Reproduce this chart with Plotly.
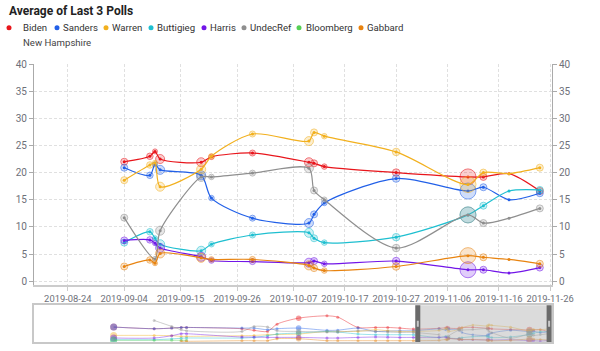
import plotly.graph_objects as go

# ---------------- data (main window: New Hampshire) ----------------
DATES = ["2019-09-04", "2019-09-09", "2019-09-10", "2019-09-11", "2019-09-19",
         "2019-09-21", "2019-09-29", "2019-10-10", "2019-10-11", "2019-10-13",
         "2019-10-27", "2019-11-10", "2019-11-13", "2019-11-18", "2019-11-24"]
SIZES = [7, 6.5, 5, 9, 9, 5.5, 6, 9, 7, 5.5, 7.5, 16, 7, 0, 7]

BIDEN = [22.0, 23.0, 23.9, 22.5, 21.9, 22.9, 23.6, 21.9, 21.7, 21.1, 20.0, 19.2, 19.2, 19.8, 16.6]
SANDERS = [20.9, 19.5, 21.5, 20.5, 19.5, 15.3, 11.6, 10.7, 12.3, 14.4, 18.9, 16.6, 17.3, 15.0, 16.2]
WARREN = [18.6, 21.4, 21.8, 17.4, 20.6, 23.0, 27.1, 25.8, 27.4, 26.7, 23.8, 17.8, 20.0, 19.8, 20.9]
BUTTIGIEG = [7.1, 9.1, 7.9, 6.8, 5.6, 6.8, 8.5, 8.9, 7.9, 7.1, 8.1, 12.2, 13.9, 16.6, 16.8]
HARRIS = [7.5, 7.6, 7.0, 6.1, 4.5, 3.8, 3.6, 3.4, 3.7, 3.2, 3.7, 2.1, 2.1, 1.5, 2.5]
UNDECREF = [11.7, None, 4.1, 9.3, 19.2, 19.2, 19.9, 20.8, 16.7, 15.0, 6.1, 12.2, 10.7, 11.6, 13.4]
BLOOMBERG = [None] * 15
GABBARD = [2.7, 3.9, 3.3, 5.1, 4.3, 4.0, 4.0, 2.9, 2.4, 1.95, 2.7, 4.7, 4.4, 4.0, 3.2]

# ---------------- data (earlier history, shown only in the slider) ----------------
H_DATES = ["2019-01-06", "2019-02-05", "2019-02-18", "2019-02-25", "2019-03-01",
           "2019-04-11", "2019-04-20", "2019-04-30", "2019-05-07", "2019-05-23",
           "2019-06-13", "2019-06-21", "2019-07-06", "2019-07-19", "2019-07-28",
           "2019-08-06", "2019-08-16"]
H_SIZES = [7, 3, 3, 3, 3, 3, 3, 3, 3, 5.5, 3, 3, 3, 3, 3, 3, 3]
BIDEN_H = [24.0, 21.3, 22.3, 23.4, 23.4, 21.3, 18.7, 17.0, 28.7, 38.3, 42.0, 39.9, 23.4, 23.4, 23.4, 22.3, 20.7]
SANDERS_H = [24.0, 21.3, 22.3, 23.4, 23.4, 22.3, 22.3, 19.7, 21.3, 22.3, 18.7, 19.0, 22.3, 17.0, 17.5, 18.0, 18.0]
WARREN_H = [10.6, 10.6, 10.1, 9.0, 9.0, 10.1, 10.6, 11.7, 12.0, 12.8, 17.0, 17.0, 17.0, 19.7, 18.0, 17.0, 17.0]
BUTTIGIEG_H = [3.7, 3.7, 5.0, 6.0, 6.4, 6.4, 7.4, 10.1, 12.8, 14.4, 17.0, 16.0, 12.8, 11.7, 11.7, 11.7, 11.5]
HARRIS_H = [6.4, 6.4, 10.1, 13.3, 13.3, 8.0, 8.0, 7.4, 7.4, 7.4, 6.4, 6.4, 7.4, 8.0, 7.8, 7.4, 7.4]
UNDECREF_H = [None, 34.6, 25.0, 19.7, 18.0, 17.0, 25.0, 24.0, 18.1, 17.0, 15.9, 15.9, 18.1, 17.0, 16.0, 15.4, 15.4]
BLOOMBERG_H = [2.7, 2.7, 2.7, 2.7, 2.7, None, None, None, None, None, None, None, None, None, None, None, None]
GABBARD_H = [None, None, None, 1.1, 1.1, 2.1, 2.1, 2.1, 5.3, 5.3, 2.1, 2.1, 2.1, 2.1, 2.1, 2.1, 2.1]

NAMES = ["Biden", "Sanders", "Warren", "Buttigieg", "Harris", "UndecRef", "Bloomberg", "Gabbard"]
COLORS = ["#e8151b", "#2260e8", "#f2b01e", "#1ebfd0", "#7216e8", "#8f8f8f", "#55d055", "#e8830f"]
MAIN = [BIDEN, SANDERS, WARREN, BUTTIGIEG, HARRIS, UNDECREF, BLOOMBERG, GABBARD]
HIST = [BIDEN_H, SANDERS_H, WARREN_H, BUTTIGIEG_H, HARRIS_H, UNDECREF_H, BLOOMBERG_H, GABBARD_H]

X_TICKS = ["2019-08-24", "2019-09-04", "2019-09-15", "2019-09-26", "2019-10-07",
           "2019-10-17", "2019-10-27", "2019-11-06", "2019-11-16", "2019-11-26"]
Y_TICKS = [0, 5, 10, 15, 20, 25, 30, 35, 40]
MAIN_RANGE = ["2019-08-17 10:00", "2019-11-26 09:00"]
SLIDER_RANGE = ["2018-11-08", "2019-11-26 16:00"]
SUBTITLE = "New Hampshire"
TITLE = "Average of Last 3 Polls"


def rgba(h, a):
    h = h.lstrip("#")
    r, g, b = int(h[0:2], 16), int(h[2:4], 16), int(h[4:6], 16)
    return f"rgba({r},{g},{b},{a})"


fig = go.Figure()

# ---------------- main chart ----------------
for name, vals, col in zip(NAMES, MAIN, COLORS):
    if all(v is None for v in vals):
        continue
    yax = "y3" if name == "Gabbard" else "y"
    fig.add_trace(go.Scatter(
        x=DATES, y=vals, mode="lines+markers", name=name, connectgaps=True,
        line=dict(color=col, width=1.2, shape="spline", smoothing=0.8),
        marker=dict(size=3, color=col), xaxis="x", yaxis=yax,
        showlegend=False, hoverinfo="x+y+name"))
    bx = [d for d, v, s in zip(DATES, vals, SIZES) if v is not None and s > 0]
    by = [v for d, v, s in zip(DATES, vals, SIZES) if v is not None and s > 0]
    bs = [s for d, v, s in zip(DATES, vals, SIZES) if v is not None and s > 0]
    fig.add_trace(go.Scatter(
        x=bx, y=by, mode="markers", name=name,
        marker=dict(size=bs, color=rgba(col, 0.3), line=dict(color=rgba(col, 0.8), width=1)),
        xaxis="x", yaxis=yax, showlegend=False, hoverinfo="skip"))

# ---------------- slider (overview) ----------------
for name, vals, hist, col in zip(NAMES, MAIN, HIST, COLORS):
    xs = H_DATES + DATES
    ys = hist + vals
    ss = H_SIZES + [max(2.5, s * 0.4) for s in SIZES]
    fig.add_trace(go.Scatter(
        x=xs, y=ys, mode="lines+markers", name=name, connectgaps=False,
        line=dict(color=rgba(col, 0.55), width=0.8, shape="spline", smoothing=0.8),
        marker=dict(size=ss, color=rgba(col, 0.6), line=dict(width=0)),
        xaxis="x2", yaxis="y2", showlegend=False, hoverinfo="skip"))

# ---------------- layout ----------------
L, R, T, B = 34, 48, 64, 7
W, H = 600, 351
PW, PH = W - L - R, H - T - B


def px_x(px):
    return (px - L) / PW


def px_y(py):
    return (H - B - py) / PH


FONT = "Roboto, 'Liberation Sans', sans-serif"
axis_font = dict(family=FONT, size=9.4, color="#6e7079")
GRID = "#e0e0e0"
fig.update_layout(
    width=W, height=H, margin=dict(l=L, r=R, t=T, b=B),
    paper_bgcolor="white", plot_bgcolor="white",
    font=dict(family=FONT, size=9.4, color="#6e7079"),
    showlegend=False,
    title=dict(text=f"<b>{TITLE}</b>", x=9 / W, xanchor="left", y=1 - 11 / H, yanchor="middle",
               font=dict(family=FONT, size=12, color="#222222")),
    xaxis=dict(type="date", range=MAIN_RANGE, domain=[0, 1], anchor="y",
               tickvals=X_TICKS, ticktext=X_TICKS, tickangle=0, showgrid=True, gridcolor=GRID,
               griddash="3px,2px", gridwidth=1, showline=True, linecolor="#cccccc", linewidth=2,
               ticks="outside", ticklen=4, tickcolor="#cccccc", tickfont=axis_font, zeroline=False),
    yaxis=dict(domain=[px_y(286.7), 1], range=[-0.73, 40], tickvals=Y_TICKS, anchor="x",
               showgrid=True, gridcolor=GRID, griddash="3px,2px", zeroline=False,
               showline=True, linecolor="#aaaaaa", linewidth=1, ticks="outside",
               ticklen=4, tickcolor="#aaaaaa", tickfont=dict(family=FONT, size=10, color="#6e7079")),
    yaxis3=dict(overlaying="y", side="right", anchor="x", range=[-0.73, 40], tickvals=Y_TICKS,
                showgrid=False, zeroline=False, showline=True, linecolor="#aaaaaa", linewidth=1,
                ticks="outside", ticklen=4, tickcolor="#aaaaaa",
                tickfont=dict(family=FONT, size=10, color="#6e7079")),
    xaxis2=dict(type="date", range=SLIDER_RANGE, domain=[0, 1], anchor="y2",
                showticklabels=False, showgrid=False, zeroline=False, ticks="",
                showline=True, mirror=True, linecolor="#c8c8c8", linewidth=1.5),
    yaxis2=dict(domain=[0, px_y(307)], range=[0, 59], anchor="x2", showticklabels=False,
                showgrid=False, zeroline=False, ticks="",
                showline=True, mirror=True, linecolor="#c8c8c8", linewidth=1.5),
)

shapes = []
# slider selection window
shapes.append(dict(type="rect", xref="x2", yref="y2 domain", x0=MAIN_RANGE[0], x1=MAIN_RANGE[1],
                   y0=0, y1=1, fillcolor="rgba(175,175,175,0.45)", line=dict(width=0), layer="above"))
# handles
for anchor, x0, x1 in [(MAIN_RANGE[0], 0, 5), (MAIN_RANGE[1], -5, 0)]:
    shapes.append(dict(type="rect", xref="x2", yref="y2 domain", xsizemode="pixel", xanchor=anchor,
                       x0=x0, x1=x1, y0=0, y1=1, fillcolor="#6b6b6b", line=dict(width=0), layer="above"))
    shapes.append(dict(type="rect", xref="x2", yref="y2", xsizemode="pixel", ysizemode="pixel",
                       xanchor=anchor, yanchor=29.5, x0=(x0 + x1) / 2 - 1, x1=(x0 + x1) / 2 + 1,
                       y0=-3, y1=3, fillcolor="#c8c8c8", line=dict(width=0), layer="above"))

# legend (custom, compact like the original)
DOT_X = [9, 57, 106, 151, 204, 244, 299, 361]
TXT_X = [22, 62, 111, 156, 209, 249, 305, 366]
annotations = []
for name, col, dx, tx in zip(NAMES, COLORS, DOT_X, TXT_X):
    shapes.append(dict(type="circle", xref="paper", yref="paper", xsizemode="pixel", ysizemode="pixel",
                       xanchor=px_x(dx), yanchor=px_y(27.5), x0=-2.5, x1=2.5, y0=-2.5, y1=2.5,
                       fillcolor=col, line=dict(width=0)))
    annotations.append(dict(text=name, xref="paper", yref="paper", x=px_x(tx - 1), y=px_y(27.5),
                            xanchor="left", yanchor="middle", showarrow=False,
                            font=dict(family=FONT, size=9.6, color="#333333")))
annotations.append(dict(text=SUBTITLE, xref="paper", yref="paper", x=px_x(21), y=px_y(42.5),
                        xanchor="left", yanchor="middle", showarrow=False,
                        font=dict(family=FONT, size=9.6, color="#444444")))

fig.update_layout(shapes=shapes, annotations=annotations)
fig.write_html("out.html")
